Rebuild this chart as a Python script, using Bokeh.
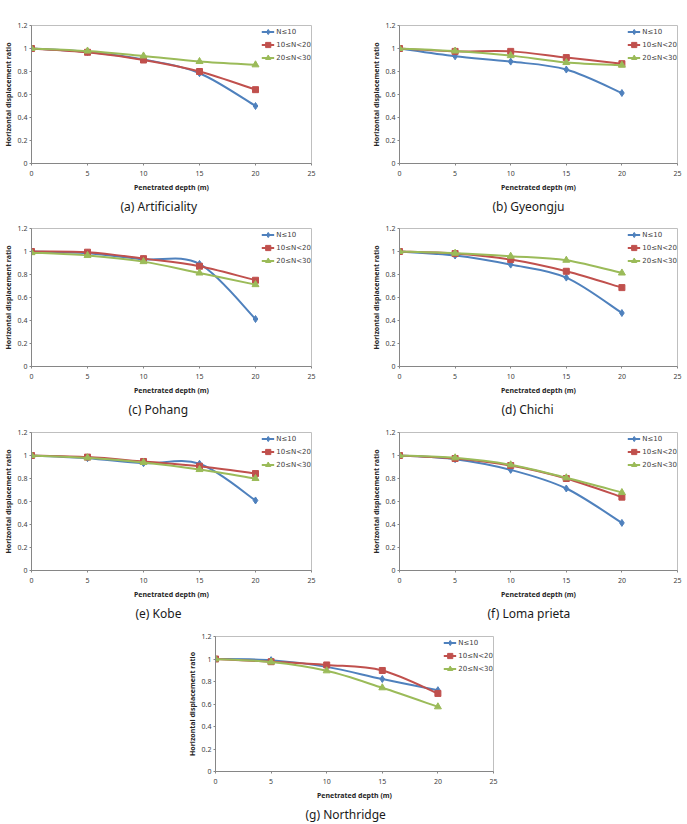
from bokeh.plotting import figure
from bokeh.layouts import column, row
from bokeh.models import (FixedTicker, NumeralTickFormatter, Range1d, Title,
                          Legend, LegendItem)
from bokeh.embed import file_html
from bokeh.resources import INLINE

# Penetrated depth (m) and axis ticks
depth = [0, 5, 10, 15, 20]
x_ticks = [0, 5, 10, 15, 20, 25]
y_ticks = [0, 0.2, 0.4, 0.6, 0.8, 1.0, 1.2]
series_labels = ["N≤10", "10≤N<20", "20≤N<30"]

# Horizontal displacement ratio per earthquake record and N-value range
artificiality_n10 = [1.00, 0.970, 0.905, 0.785, 0.500]
artificiality_n20 = [1.00, 0.967, 0.900, 0.800, 0.642]
artificiality_n30 = [1.00, 0.978, 0.935, 0.887, 0.858]

gyeongju_n10 = [1.00, 0.932, 0.886, 0.817, 0.613]
gyeongju_n20 = [1.00, 0.975, 0.975, 0.921, 0.868]
gyeongju_n30 = [1.00, 0.978, 0.938, 0.878, 0.855]

pohang_n10 = [1.00, 0.985, 0.933, 0.892, 0.413]
pohang_n20 = [1.00, 0.994, 0.938, 0.872, 0.750]
pohang_n30 = [0.99, 0.965, 0.912, 0.813, 0.712]

chichi_n10 = [1.00, 0.965, 0.886, 0.773, 0.465]
chichi_n20 = [1.00, 0.982, 0.930, 0.828, 0.686]
chichi_n30 = [1.00, 0.985, 0.959, 0.924, 0.813]

kobe_n10 = [1.00, 0.977, 0.933, 0.928, 0.609]
kobe_n20 = [1.00, 0.986, 0.948, 0.907, 0.843]
kobe_n30 = [1.00, 0.980, 0.939, 0.878, 0.800]

loma_prieta_n10 = [1.00, 0.968, 0.875, 0.713, 0.414]
loma_prieta_n20 = [1.00, 0.974, 0.913, 0.800, 0.638]
loma_prieta_n30 = [1.00, 0.980, 0.919, 0.806, 0.678]

northridge_n10 = [1.00, 0.990, 0.930, 0.822, 0.723]
northridge_n20 = [1.00, 0.976, 0.947, 0.898, 0.694]
northridge_n30 = [1.00, 0.973, 0.895, 0.744, 0.575]

COLORS = ["#4F81BD", "#C0504D", "#9BBB59"]
MARKERS = ["diamond", "square", "triangle"]
MARKER_SIZES = [7, 6, 7]
FONT = "Noto Sans"
LEGEND_FONT = "DejaVu Sans"


def smooth_segments(xs, ys):
    """Cubic Bezier control points for a smoothed line through the points."""
    px = [xs[0]] + list(xs) + [xs[-1]]
    py = [ys[0]] + list(ys) + [ys[-1]]
    seg = dict(x0=[], y0=[], x1=[], y1=[], cx0=[], cy0=[], cx1=[], cy1=[])
    for i in range(1, len(xs)):
        seg["x0"].append(px[i]); seg["y0"].append(py[i])
        seg["x1"].append(px[i + 1]); seg["y1"].append(py[i + 1])
        seg["cx0"].append(px[i] + (px[i + 1] - px[i - 1]) / 6)
        seg["cy0"].append(py[i] + (py[i + 1] - py[i - 1]) / 6)
        seg["cx1"].append(px[i + 1] - (px[i + 2] - px[i]) / 6)
        seg["cy1"].append(py[i + 1] - (py[i + 2] - py[i]) / 6)
    return seg


def make_panel(caption, series, width, height, left, right, top, bottom, cap_offset):
    p = figure(width=width, height=height,
               min_border_left=left, min_border_right=right,
               min_border_top=top, min_border_bottom=bottom,
               x_range=Range1d(0, 25), y_range=Range1d(0, 1.2),
               output_backend="svg", toolbar_location=None)
    p.xgrid.visible = False
    p.ygrid.visible = False
    p.outline_line_color = "#BFBFBF"
    p.outline_line_width = 1
    p.background_fill_color = "white"
    p.border_fill_color = "white"

    p.xaxis.ticker = FixedTicker(ticks=x_ticks)
    p.yaxis.ticker = FixedTicker(ticks=y_ticks)
    p.yaxis.formatter = NumeralTickFormatter(format="0.[0]")
    p.xaxis.axis_label = "Penetrated depth (m)"
    p.yaxis.axis_label = "Horizontal displacement ratio"
    for ax in (p.xaxis, p.yaxis):
        ax.axis_line_color = "#868686"
        ax.major_tick_line_color = "#868686"
        ax.major_tick_out = 2
        ax.major_tick_in = 0
        ax.minor_tick_out = 0
        ax.minor_tick_in = 0
        ax.major_label_text_font = FONT
        ax.major_label_text_font_size = "7px"
        ax.major_label_text_color = "#404040"
        ax.axis_label_text_font = FONT
        ax.axis_label_text_font_size = "7px"
        ax.axis_label_text_font_style = "bold"
        ax.axis_label_text_color = "#262626"
    p.xaxis.major_label_standoff = 5
    p.xaxis.axis_label_standoff = 4
    p.yaxis.major_label_standoff = 2
    p.yaxis.axis_label_standoff = 2

    items = []
    for ys, lab, col, mk, ms in zip(series, series_labels, COLORS, MARKERS, MARKER_SIZES):
        seg = smooth_segments(depth, ys)
        curve = p.bezier(line_color=col, line_width=2, **seg)
        marks = p.scatter(depth, ys, marker=mk, size=ms, fill_color=col, line_color=col)
        items.append(LegendItem(label=lab, renderers=[curve, marks]))

    legend = Legend(items=items, location="top_right", margin=0, padding=1,
                    spacing=0, glyph_width=13, glyph_height=13, label_height=13,
                    label_standoff=2, label_text_font=LEGEND_FONT,
                    label_text_font_size="7px", label_text_color="#404040",
                    border_line_color=None, background_fill_alpha=0)
    p.add_layout(legend)

    p.add_layout(Title(text=caption, align="left", offset=cap_offset, standoff=3,
                       text_font=FONT, text_font_size="12px",
                       text_font_style="normal", text_color="#1a1a1a"), "below")
    return p


fa = make_panel("(a) Artificiality", [artificiality_n10, artificiality_n20, artificiality_n30],
                344, 216, 31, 33, 25, 52, 89)
fb = make_panel("(b) Gyeongju", [gyeongju_n10, gyeongju_n20, gyeongju_n30],
                343, 216, 55, 10, 25, 52, 93)
fc = make_panel("(c) Pohang", [pohang_n10, pohang_n20, pohang_n30],
                344, 204, 31, 33, 12, 54, 97)
fd = make_panel("(d) Chichi", [chichi_n10, chichi_n20, chichi_n30],
                343, 204, 55, 10, 12, 54, 102)
fe = make_panel("(e) Kobe", [kobe_n10, kobe_n20, kobe_n30],
                344, 204, 31, 33, 12, 54, 104)
ff = make_panel("(f) Loma prieta", [loma_prieta_n10, loma_prieta_n20, loma_prieta_n30],
                343, 204, 55, 10, 12, 54, 88)
fg = make_panel("(g) Northridge", [northridge_n10, northridge_n20, northridge_n30],
                687, 200, 215, 194, 12, 51, 90)

layout = column(row(fa, fb), row(fc, fd), row(fe, ff), fg)

with open("out.html", "w") as f:
    f.write(file_html(layout, INLINE))
